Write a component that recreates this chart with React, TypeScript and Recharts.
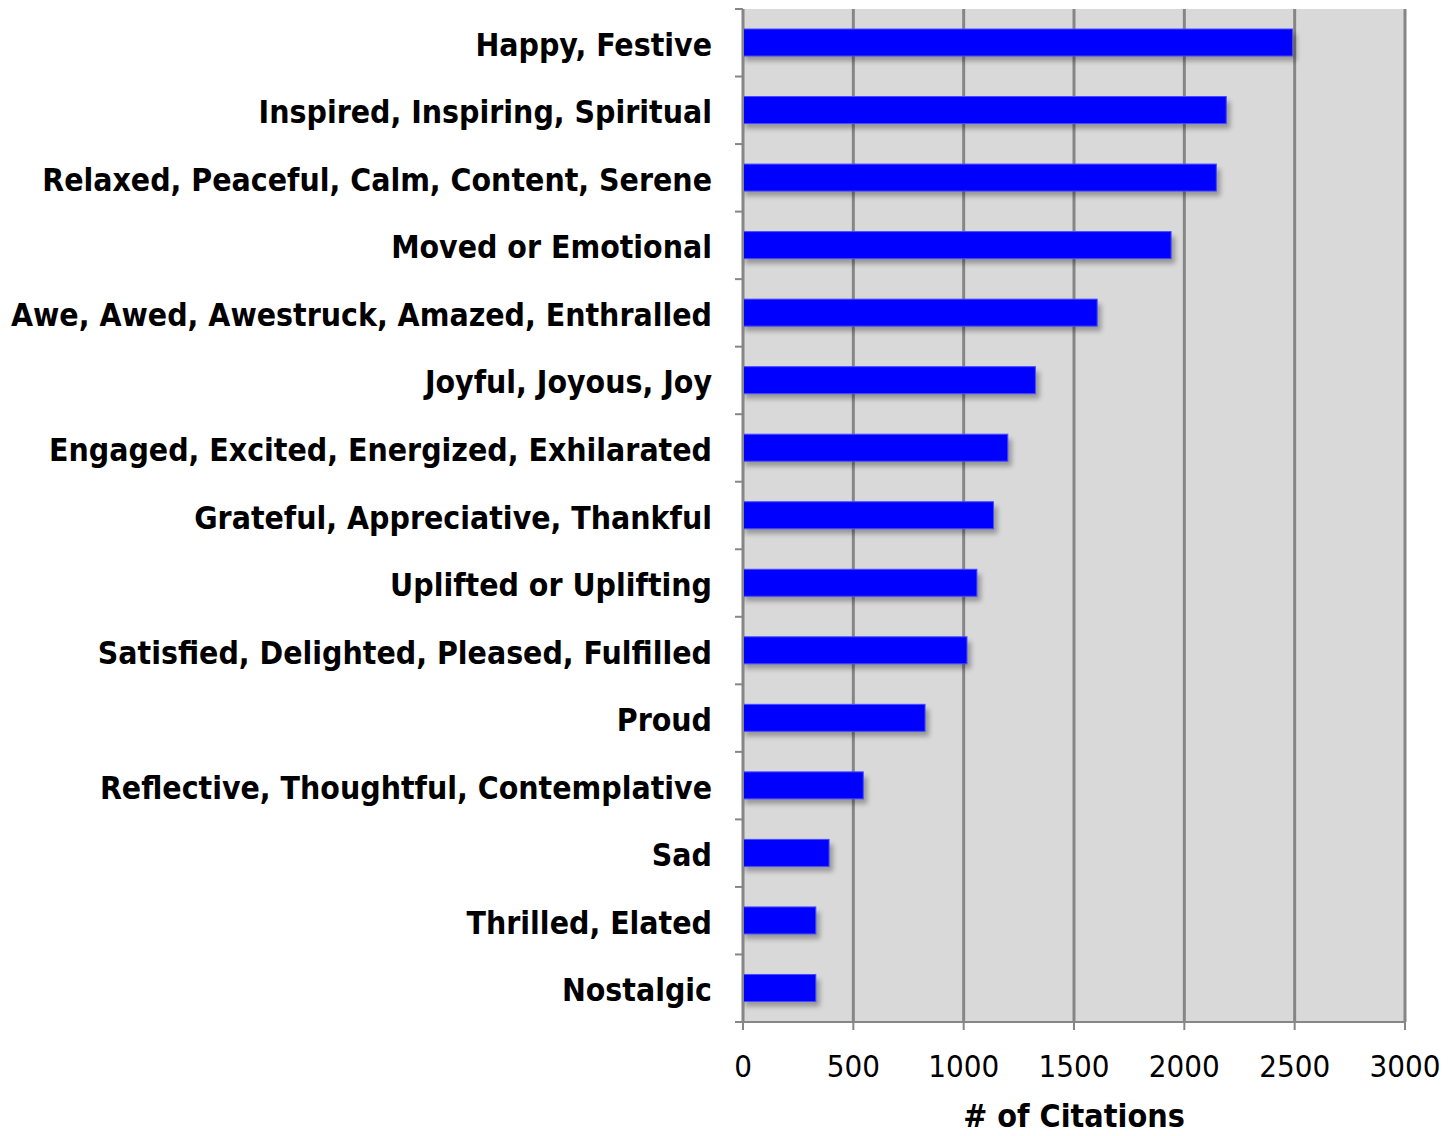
import React from "react";
import { BarChart, Bar, XAxis, YAxis, CartesianGrid, Label } from "recharts";

const categories = [
  "Happy, Festive",
  "Inspired, Inspiring, Spiritual",
  "Relaxed, Peaceful, Calm, Content, Serene",
  "Moved or Emotional",
  "Awe, Awed, Awestruck, Amazed, Enthralled",
  "Joyful, Joyous, Joy",
  "Engaged, Excited, Energized, Exhilarated",
  "Grateful, Appreciative, Thankful",
  "Uplifted or Uplifting",
  "Satisfied, Delighted, Pleased, Fulfilled",
  "Proud",
  "Reflective, Thoughtful, Contemplative",
  "Sad",
  "Thrilled, Elated",
  "Nostalgic",
];
const citations = [2490, 2190, 2145, 1940, 1605, 1325, 1200, 1135, 1060, 1015, 825, 545, 390, 330, 330];
const xTicks = [0, 500, 1000, 1500, 2000, 2500, 3000];

const data = categories.map((name, i) => ({ name, value: citations[i] }));

const LABEL_FONT = "'DejaVu Sans Condensed', 'DejaVu Sans', sans-serif";
const AXIS_GRAY = "#868686";

const ShadowBar = (props: any) => {
  const { x, y, width, height, index } = props;
  const id = `bar-shadow-${index}`;
  return (
    <g>
      <defs>
        <filter id={id} x="-20%" y="-50%" width="140%" height="200%">
          <feGaussianBlur stdDeviation="2.5" />
        </filter>
      </defs>
      <rect x={x + 2} y={y + 5} width={width + 2} height={height} fill="#000" opacity={0.3} filter={`url(#${id})`} />
      <rect x={x} y={y} width={width} height={height} fill="#0000ff" stroke="#4a4aff" strokeWidth={1} />
    </g>
  );
};

const CategoryTick = (props: any) => {
  const { x, y, payload, index } = props;
  const axisX = x + 31;
  const half = payload.offset ?? 33.75;
  const last = index === categories.length - 1;
  return (
    <g>
      <line x1={axisX - 8} x2={axisX} y1={y - half} y2={y - half} stroke={AXIS_GRAY} strokeWidth={2} />
      {last && <line x1={axisX - 8} x2={axisX} y1={y + half} y2={y + half} stroke={AXIS_GRAY} strokeWidth={2} />}
      <text x={x} y={y} dy={13} textAnchor="end" fontFamily={LABEL_FONT} fontWeight="bold" fontSize={31.7} fill="#000">
        {payload.value}
      </text>
    </g>
  );
};

export default function App() {
  return (
    <div style={{ position: "absolute", left: 0, top: 0, background: "#fff" }}>
      <BarChart
        width={1451}
        height={1136}
        data={data}
        layout="vertical"
        barCategoryGap="30%"
        margin={{ top: 9, right: 46, bottom: 0, left: 0 }}
      >
        <CartesianGrid horizontal={false} fill="#d9d9d9" stroke={AXIS_GRAY} strokeWidth={3} verticalValues={xTicks} />
        <XAxis
          type="number"
          domain={[0, 3000]}
          ticks={xTicks}
          height={114}
          axisLine={{ stroke: AXIS_GRAY, strokeWidth: 2 }}
          tickLine={{ stroke: AXIS_GRAY, strokeWidth: 2 }}
          tickSize={8}
          tickMargin={25}
          tick={{ fontFamily: LABEL_FONT, fontSize: 31, fill: "#000" }}
        >
          <Label
            value="# of Citations"
            position="insideBottom"
            offset={9}
            style={{ fontFamily: LABEL_FONT, fontWeight: "bold", fontSize: 32, fill: "#000" }}
          />
        </XAxis>
        <YAxis
          type="category"
          dataKey="name"
          width={743}
          axisLine={{ stroke: AXIS_GRAY, strokeWidth: 2 }}
          tickLine={false}
          tickSize={8}
          tickMargin={23}
          interval={0}
          tick={<CategoryTick />}
        />
        <Bar dataKey="value" barSize={27} shape={<ShadowBar />} isAnimationActive={false} />
      </BarChart>
    </div>
  );
}
